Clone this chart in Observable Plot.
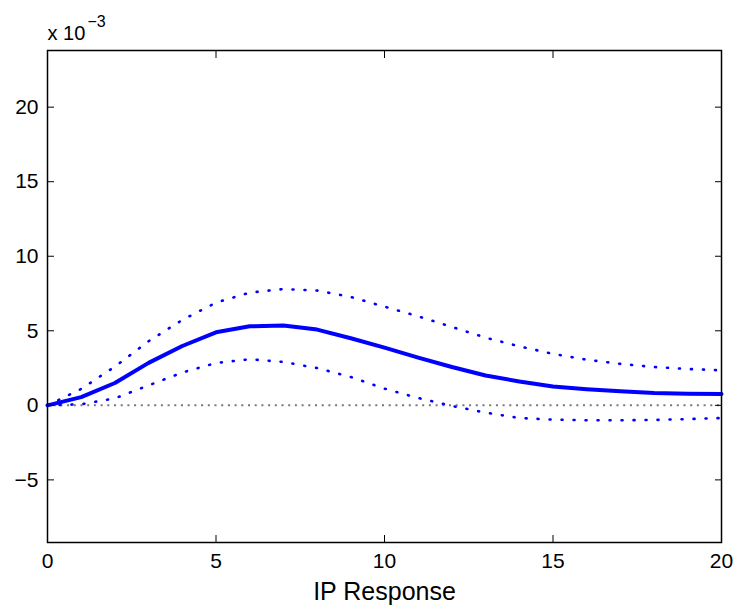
<!DOCTYPE html>
<html><head><meta charset="utf-8">
<script src="https://cdn.jsdelivr.net/npm/d3@7"></script>
<script src="https://cdn.jsdelivr.net/npm/@observablehq/plot@0.6"></script>
<style>body{margin:0;background:#fff}</style>
</head><body><div id="chart"></div>
<script>
const horizon  = [0,1,2,3,4,5,6,7,8,9,10,11,12,13,14,15,16,17,18,19,20];
const response = [0,0.55,1.5,2.85,3.98,4.9,5.3,5.35,5.08,4.5,3.87,3.2,2.57,2.0,1.6,1.27,1.08,0.94,0.83,0.78,0.76];
const upper    = [0,1.1,2.6,4.3,5.73,6.89,7.56,7.8,7.7,7.27,6.62,5.97,5.26,4.54,3.96,3.45,3.06,2.78,2.57,2.44,2.35];
const lower    = [0,0.07,0.47,1.34,2.2,2.84,3.09,2.91,2.5,1.9,1.12,0.49,-0.04,-0.49,-0.85,-0.96,-1.0,-1.0,-0.98,-0.92,-0.85];
const xTicks = [0,5,10,15,20];
const yTicks = [-5,0,5,10,15,20];
const xLabel = "IP Response";
const scaleBase = "x 10";
const scaleExp = "\u22123";

const rows = horizon.map((h,i)=>({h, mid: response[i], hi: upper[i], lo: lower[i]}));
const font = "'Liberation Sans', Arial, Helvetica, sans-serif";
const fmt = d => d < 0 ? "\u2212" + Math.abs(d) : String(d);

const chart = Plot.plot({
  width: 738, height: 608,
  marginLeft: 47, marginRight: 17, marginTop: 50, marginBottom: 66,
  style: {fontFamily: font, fontSize: "21px", color: "black", background: "white"},
  x: {domain: [0, 20]},
  y: {domain: [-9.2, 23.8]},
  marks: [
    Plot.ruleY([0], {stroke: "#777777", strokeWidth: 2, strokeDasharray: "2,4.7"}),
    Plot.line(rows, {x: "h", y: "hi", stroke: "blue", strokeWidth: 2.6, strokeDasharray: "1,11"}),
    Plot.line(rows, {x: "h", y: "lo", stroke: "blue", strokeWidth: 2.6, strokeDasharray: "1,11"}),
    Plot.line(rows, {x: "h", y: "mid", stroke: "blue", strokeWidth: 4}),
    Plot.frame({stroke: "black", strokeWidth: 1.5}),
    Plot.axisX({anchor: "bottom", ticks: xTicks, tickSize: -7, fill: "none", label: null}),
    Plot.axisX({anchor: "top", ticks: xTicks, tickSize: -7, fill: "none", label: null}),
    Plot.axisY({anchor: "left", ticks: yTicks, tickSize: -7, fill: "none", label: null}),
    Plot.axisY({anchor: "right", ticks: yTicks, tickSize: -7, fill: "none", label: null}),
    Plot.text(xTicks, {x: d => d, text: fmt, frameAnchor: "bottom", lineAnchor: "top", dy: 11, fontSize: 21}),
    Plot.text(yTicks, {y: d => d, text: fmt, frameAnchor: "left", textAnchor: "end", dx: -9, fontSize: 21}),
    Plot.text([scaleBase], {text: d => d, frameAnchor: "top-left", textAnchor: "start", lineAnchor: "top", dx: 0, dy: -25, fontSize: 20}),
    Plot.text([scaleExp], {text: d => d, frameAnchor: "top-left", textAnchor: "start", lineAnchor: "top", dx: 40, dy: -35, fontSize: 16}),
    Plot.text([xLabel], {text: d => d, frameAnchor: "bottom", lineAnchor: "top", dy: 40, fontSize: 25})
  ]
});
document.getElementById("chart").appendChild(chart);
</script>
</body></html>
